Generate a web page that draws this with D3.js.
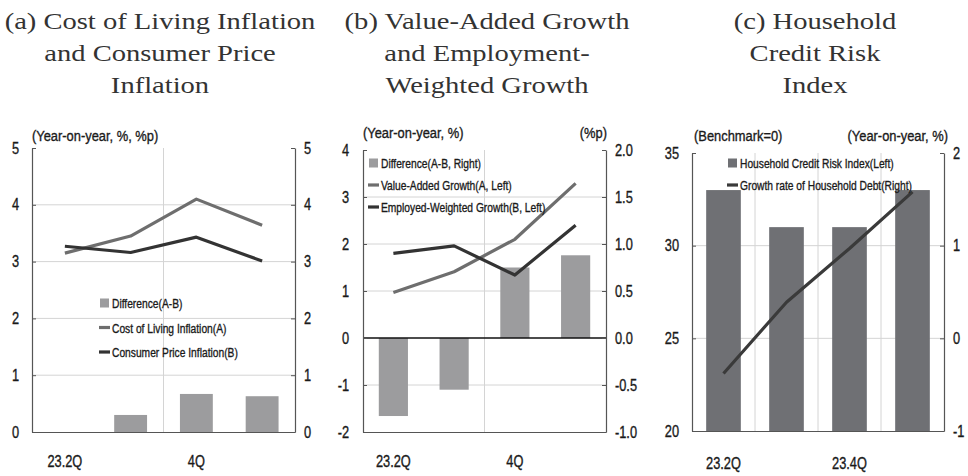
<!DOCTYPE html>
<html><head><meta charset="utf-8">
<script src="https://cdn.jsdelivr.net/npm/d3@7"></script>
<style>
body{margin:0;background:#fff;}
</style></head><body>
<svg id="chart" width="968" height="476"></svg>
<script>
// ---------- data ----------
const categoriesAB = ["23.2Q", "3Q", "4Q", "24.1Q"];
const categoriesC = ["23.2Q", "23.3Q", "23.4Q", "24.1Q"];
const shownTicksAB = ["23.2Q", "4Q"];
const shownTicksC = ["23.2Q", "23.4Q"];

const costOfLivingInflation = [3.15, 3.45, 4.10, 3.64];
const consumerPriceInflation = [3.27, 3.16, 3.43, 3.01];
const inflationDifference = [-0.12, 0.30, 0.67, 0.63];

const valueAddedGrowth = [0.97, 1.41, 2.10, 3.29];
const employmentWeightedGrowth = [1.80, 1.96, 1.34, 2.40];
const growthDifference = [-0.83, -0.55, 0.75, 0.88];

const householdCreditRiskIndex = [33, 31, 31, 33];
const householdDebtGrowth = [-0.38, 0.39, 0.97, 1.58];

const ticksALeft = [0, 1, 2, 3, 4, 5];
const ticksARight = [0, 1, 2, 3, 4, 5];
const ticksBLeft = [-2, -1, 0, 1, 2, 3, 4];
const ticksBRight = [-1.0, -0.5, 0.0, 0.5, 1.0, 1.5, 2.0];
const ticksCLeft = [20, 25, 30, 35];
const ticksCRight = [-1, 0, 1, 2];

const titleA = ["(a) Cost of Living Inflation", "and Consumer Price", "Inflation"];
const titleB = ["(b) Value-Added Growth", "and Employment-", "Weighted Growth"];
const titleC = ["(c) Household", "Credit Risk", "Index"];

// ---------- styles ----------
const SANS = "'Liberation Sans',Arial,sans-serif";
const SERIF = "'Liberation Serif','DejaVu Serif',serif";
const GRID = "#d4d4d4";
const AXIS = "#555";
const TXT = "#1a1a1a";

const svg = d3.select("#chart");
const defs = svg.append("defs");

const fmtInt = d => d3.format("d")(d).replace("\u2212", "-");
const fmt1 = d => d3.format(".1f")(d).replace("\u2212", "-");

// horizontally condense a text element around its anchor point, slightly heavier stroke
function condense(sel, sx) {
  sel.each(function () {
    const t = d3.select(this);
    const x = +t.attr("x") || 0, y = +t.attr("y") || 0;
    t.attr("x", 0).attr("y", 0).attr("transform", `translate(${x},${y}) scale(${sx},1)`)
      .attr("stroke", TXT).attr("stroke-width", 0.35);
  });
}

function panel(o) {
  const g = svg.append("g");
  const x = d3.scaleBand().domain(o.cats).range([o.l, o.r]);
  const yL = d3.scaleLinear().domain(o.yL).range([o.b, o.t]);
  const yR = d3.scaleLinear().domain(o.yR).range([o.b, o.t]);

  // title
  const tt = g.append("text").attr("font-family", SERIF).attr("font-size", 24)
    .attr("fill", "#333").attr("text-anchor", "middle")
    .attr("transform", `translate(${o.tx},0) scale(1.19,1)`);
  o.title.forEach((s, i) => tt.append("tspan").attr("x", 0).attr("y", 29 + i * 32).text(s));

  // clip
  const cid = "clip" + o.id;
  defs.append("clipPath").attr("id", cid).append("rect")
    .attr("x", o.l).attr("y", o.t).attr("width", o.r - o.l).attr("height", o.b - o.t);

  // horizontal grid
  g.append("g").selectAll("line").data(o.gridH).join("line")
    .attr("x1", o.l).attr("x2", o.r).attr("y1", d => yL(d)).attr("y2", d => yL(d))
    .attr("stroke", GRID).attr("stroke-width", 1);
  // vertical grid at category boundaries
  g.append("g").selectAll("line").data(o.gridV).join("line")
    .attr("x1", d => x(o.cats[d])).attr("x2", d => x(o.cats[d]))
    .attr("y1", o.t).attr("y2", o.b)
    .attr("stroke", GRID).attr("stroke-width", 1);

  // bars
  const ys = o.barRight ? yR : yL;
  const bw = x.bandwidth() * o.barFrac;
  g.append("g").attr("clip-path", `url(#${cid})`).selectAll("rect")
    .data(o.bars.map((v, i) => ({ c: o.cats[i], v })).filter(d => d.v != null)).join("rect")
    .attr("x", d => x(d.c) + (x.bandwidth() - bw) / 2).attr("width", bw)
    .attr("y", d => Math.min(ys(d.v), ys(o.barBase)))
    .attr("height", d => Math.abs(ys(d.v) - ys(o.barBase)))
    .attr("fill", o.barColor);

  // zero line
  if (o.zeroLine != null) {
    g.append("line").attr("x1", o.l).attr("x2", o.r)
      .attr("y1", yL(o.zeroLine)).attr("y2", yL(o.zeroLine))
      .attr("stroke", "#111").attr("stroke-width", 1.3);
  }

  // lines
  o.lines.forEach(ln => {
    const sc = ln.right ? yR : yL;
    const line = d3.line().x((d, i) => x(o.cats[i]) + x.bandwidth() / 2).y(d => sc(d));
    g.append("path").datum(ln.values).attr("d", line)
      .attr("fill", "none").attr("stroke", ln.color).attr("stroke-width", 3.2)
      .attr("stroke-linejoin", "round");
  });

  // axes
  const ax = g.append("g").attr("transform", `translate(${o.l},0)`)
    .call(d3.axisLeft(yL).tickValues(o.ticksL).tickSizeInner(-4).tickSizeOuter(0)
      .tickPadding(o.padL).tickFormat(o.fmtL || fmtInt));
  const axR = g.append("g").attr("transform", `translate(${o.r},0)`)
    .call(d3.axisRight(yR).tickValues(o.ticksR).tickSizeInner(-4).tickSizeOuter(0)
      .tickPadding(o.padR).tickFormat(o.fmtR || fmtInt));
  const axB = g.append("g").attr("transform", `translate(0,${o.b})`)
    .call(d3.axisBottom(x).tickValues(o.shown).tickSize(0).tickPadding(o.padB));
  [ax, axR, axB].forEach(a => {
    a.selectAll(".domain").attr("stroke", AXIS).attr("stroke-width", 1.2);
    a.selectAll(".tick line").attr("stroke", AXIS);
    a.selectAll("text").attr("font-family", SANS).attr("font-size", 16).attr("fill", TXT)
      .call(condense, 0.8);
  });

  // axis titles
  o.units.forEach(u => {
    g.append("text").attr("x", u.x).attr("y", o.unitY).attr("text-anchor", u.anchor)
      .attr("font-family", SANS).attr("font-size", 15).attr("fill", TXT).text(u.text)
      .call(condense, 0.86);
  });

  // legend
  o.legend.forEach((it, i) => {
    const y = o.legY + i * o.legDy;
    if (it.type === "bar") {
      g.append("rect").attr("x", o.legX).attr("y", y - 4.5).attr("width", 9).attr("height", 9).attr("fill", it.color);
    } else {
      g.append("line").attr("x1", o.legX - 1).attr("x2", o.legX + 10).attr("y1", y).attr("y2", y)
        .attr("stroke", it.color).attr("stroke-width", 3.2);
    }
    g.append("text").attr("x", o.legX + 12).attr("y", y + 5)
      .attr("font-family", SANS).attr("font-size", 13.5).attr("fill", TXT).text(it.text)
      .call(condense, 0.76);
  });
}

panel({
  id: "a", cats: categoriesAB, shown: shownTicksAB, title: titleA, tx: 160,
  l: 32, r: 295, t: 148, b: 432, yL: [0, 5], yR: [0, 5],
  ticksL: ticksALeft, ticksR: ticksARight, padL: 13, padR: 9, padB: 24,
  gridH: [1, 2, 3, 4], gridV: [2],
  bars: inflationDifference, barRight: false, barBase: 0, barFrac: 0.5, barColor: "#9c9c9e",
  lines: [
    { values: costOfLivingInflation, color: "#6e6e6e" },
    { values: consumerPriceInflation, color: "#333333" }
  ],
  unitY: 141, units: [{ x: 32, anchor: "start", text: "(Year-on-year, %, %p)" }],
  legX: 100, legY: 303, legDy: 24.5,
  legend: [
    { type: "bar", color: "#9c9c9e", text: "Difference(A-B)" },
    { type: "line", color: "#6e6e6e", text: "Cost of Living Inflation(A)" },
    { type: "line", color: "#333333", text: "Consumer Price Inflation(B)" }
  ]
});

panel({
  id: "b", cats: categoriesAB, shown: shownTicksAB, title: titleB, tx: 487,
  l: 363, r: 606, t: 150, b: 432, yL: [-2, 4], yR: [-1, 2],
  ticksL: ticksBLeft, ticksR: ticksBRight, padL: 14, padR: 9, padB: 24, fmtR: fmt1,
  gridH: [-1, 1, 2, 3], gridV: [2], zeroLine: 0,
  bars: growthDifference, barRight: true, barBase: 0, barFrac: 0.48, barColor: "#9c9c9e",
  lines: [
    { values: valueAddedGrowth, color: "#6e6e6e" },
    { values: employmentWeightedGrowth, color: "#333333" }
  ],
  unitY: 138, units: [
    { x: 363, anchor: "start", text: "(Year-on-year, %)" },
    { x: 607, anchor: "end", text: "(%p)" }
  ],
  legX: 369, legY: 163, legDy: 22,
  legend: [
    { type: "bar", color: "#9c9c9e", text: "Difference(A-B, Right)" },
    { type: "line", color: "#6e6e6e", text: "Value-Added Growth(A, Left)" },
    { type: "line", color: "#333333", text: "Employed-Weighted Growth(B, Left)" }
  ]
});

panel({
  id: "c", cats: categoriesC, shown: shownTicksC, title: titleC, tx: 815,
  l: 692, r: 944, t: 153, b: 431, yL: [20, 35], yR: [-1, 2],
  ticksL: ticksCLeft, ticksR: ticksCRight, padL: 13, padR: 9, padB: 27,
  gridH: [25, 30], gridV: [1, 2, 3],
  bars: householdCreditRiskIndex, barRight: false, barBase: 20, barFrac: 0.55, barColor: "#6f7074",
  lines: [{ values: householdDebtGrowth, color: "#3a3a3a", right: true }],
  unitY: 141, units: [
    { x: 694, anchor: "start", text: "(Benchmark=0)" },
    { x: 948, anchor: "end", text: "(Year-on-year, %)" }
  ],
  legX: 728, legY: 163, legDy: 22,
  legend: [
    { type: "bar", color: "#6f7074", text: "Household Credit Risk Index(Left)" },
    { type: "line", color: "#3a3a3a", text: "Growth rate of Household Debt(Right)" }
  ]
});
</script>
</body></html>
